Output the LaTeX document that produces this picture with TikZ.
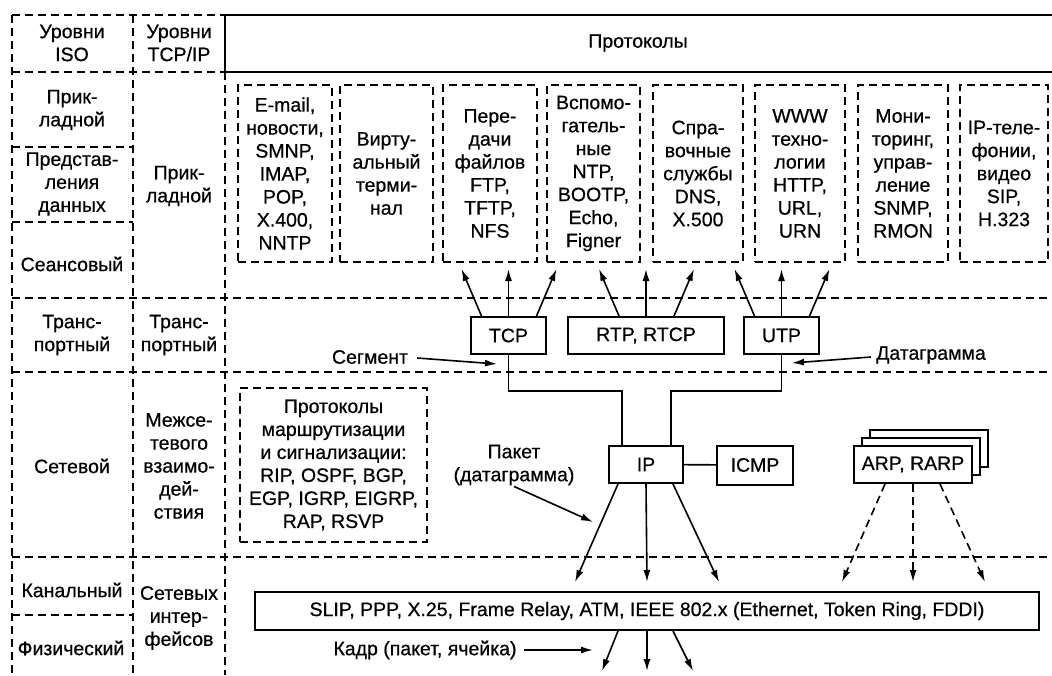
\documentclass[tikz,border=0pt]{standalone}
\usepackage{fontspec}
\setmainfont{Liberation Sans}[FakeBold=0.6]
\usetikzlibrary{arrows.meta,calc}
\begin{document}
\begin{tikzpicture}[x=1pt,y=-1pt,
  font=\fontsize{19.5}{23}\selectfont,
  grid/.style={line width=2pt, dash pattern=on 8pt off 5pt},
  lbl/.style={align=center, inner sep=1pt},
  appbox/.style={draw, line width=2pt, dash pattern=on 8pt off 5pt, align=center, minimum height=177pt, inner sep=1pt},
  sbox/.style={draw, line width=2pt, align=center, minimum height=37pt, inner sep=2pt, fill=white},
  arr/.style={line width=1.6pt, -{Latex[length=12pt,width=7pt]}},
  darr/.style={arr, dash pattern=on 8pt off 5pt},
  wire/.style={line width=1.6pt}
]
\useasboundingbox (0,0) rectangle (1052,675);
% grid
\draw[grid] (12,15) -- (225,15);
\draw[grid] (12,72) -- (225,72);
\draw[grid] (12,147) -- (133,147);
\draw[grid] (12,222) -- (133,222);
\draw[grid] (12,298) -- (1052,298);
\draw[grid] (12,372) -- (1052,372);
\draw[grid] (12,557) -- (1052,557);
\draw[grid] (12,615) -- (133,615);
\draw[grid] (12,15) -- (12,675);
\draw[grid] (133,15) -- (133,675);
\draw[grid] (225,72) -- (225,675);
\draw[line width=2pt] (1052,15) -- (225,15) -- (225,72) -- (1052,72);
% headers
\node[lbl] (isoH) at (72,43) {Уровни\\ISO};
\node[lbl] (tcpH) at (179,43) {Уровни\\TCP/IP};
\node[lbl] (protH) at (638,43) {Протоколы};
% ISO column
\node[lbl] (iso7) at (72,110) {Прик-\\ладной};
\node[lbl] (iso6) at (72,184) {Представ-\\ления\\данных};
\node[lbl] (iso5) at (72,264) {Сеансовый};
\node[lbl] (iso4) at (72,335) {Транс-\\портный};
\node[lbl] (iso3) at (72,466) {Сетевой};
\node[lbl] (iso2) at (72,590) {Канальный};
\node[lbl] (iso1) at (71,648) {Физический};
% TCP/IP column
\node[lbl] (tcp4) at (179,186) {Прик-\\ладной};
\node[lbl] (tcp3) at (179,335) {Транс-\\портный};
\node[lbl] (tcp2) at (179,466) {Межсе-\\тевого\\взаимо-\\дей-\\ствия};
\node[lbl] (tcp1) at (179,618) {Сетевых\\интер-\\фейсов};
% application boxes
\node[appbox, minimum width=94pt] (b1) at (285,173.5) {E-mail,\\новости,\\SMNP,\\IMAP,\\POP,\\X.400,\\NNTP};
\node[appbox, minimum width=93pt] (b2) at (386.5,173.5) {Вирту-\\альный\\терми-\\нал};
\node[appbox, minimum width=94pt] (b3) at (490,173.5) {Пере-\\дачи\\файлов\\FTP,\\TFTP,\\NFS};
\node[appbox, minimum width=93pt] (b4) at (593.5,173.5) {Вспомо-\\гатель-\\ные\\NTP,\\BOOTP,\\Echo,\\Figner};
\node[appbox, minimum width=90pt] (b5) at (698,173.5) {Спра-\\вочные\\службы\\DNS,\\X.500};
\node[appbox, minimum width=90pt] (b6) at (800,173.5) {WWW\\техно-\\логии\\HTTP,\\URL,\\URN};
\node[appbox, minimum width=90pt] (b7) at (903,173.5) {Мони-\\торинг,\\управ-\\ление\\SNMP,\\RMON};
\node[appbox, minimum width=88pt] (b8) at (1004,173.5) {IP-теле-\\фонии,\\видео\\SIP,\\H.323};
% transport boxes
\node[sbox, minimum width=75pt] (tcp) at (508.5,335.5) {TCP};
\node[sbox, minimum width=156pt] (rtp) at (646,335.5) {RTP, RTCP};
\node[sbox, minimum width=75pt] (utp) at (781.5,335.5) {UTP};
\foreach \n in {tcp,rtp,utp}{
  \draw[arr] ([xshift=-27pt]\n.north) -- ++(-20,-47);
  \draw[arr] (\n.north) -- ++(0,-47);
  \draw[arr] ([xshift=28pt]\n.north) -- ++(20,-47);
}
% labels transport
\node[lbl] (seg) at (370,357) {Сегмент};
\coordinate (segtip) at (497,364);
\draw[arr] (seg.east) ++(8,1) -- (segtip);
\node[lbl] (dg) at (931,355) {Датаграмма};
\coordinate (dgtip) at (792,363);
\draw[arr] (dg.west) ++(-4,2) -- (dgtip);
% network
\node[appbox, minimum width=187pt, minimum height=154pt] (rout) at (333.5,465) {Протоколы\\маршрутизации\\и сигнализации:\\RIP, OSPF, BGP,\\EGP, IGRP, EIGRP,\\RAP, RSVP};
\node[sbox, minimum width=74pt] (ip) at (646,464.5) {IP};
\node[sbox, minimum width=76pt, minimum height=39pt] (icmp) at (755,465) {ICMP};
\node[sbox, minimum width=118pt] (arp3) at (929,448.5) {};
\node[sbox, minimum width=118pt] (arp2) at (921,456.5) {};
\node[sbox, minimum width=118pt] (arp) at (913,464.5) {ARP, RARP};
\draw[wire] (tcp.south) -- ++(0,36) -| ([xshift=-24pt]ip.north);
\draw[wire] (utp.south) -- ++(0,36) -| ([xshift=25pt]ip.north);
\draw[wire] (ip) -- (icmp);
\node[lbl] (pak) at (514,465) {Пакет\\(датаграмма)};
\coordinate (paktip) at (593,522);
\draw[arr] (pak.south) -- (paktip);
% link
\node[sbox, minimum width=784pt, minimum height=38pt] (link) at (647,611) {SLIP, PPP, X.25, Frame Relay, ATM, IEEE 802.x (Ethernet, Token Ring, FDDI)};
\draw[arr] ([xshift=-28pt]ip.south) -- ([xshift=-72pt,yshift=9pt]link.north);
\draw[arr] (ip.south) -- ([yshift=9pt]link.north);
\draw[arr] ([xshift=27pt]ip.south) -- ([xshift=72pt,yshift=9pt]link.north);
\draw[darr] ([xshift=-28pt]arp.south) -- ([xshift=195pt,yshift=9pt]link.north);
\draw[darr] (arp.south) -- ([xshift=266pt,yshift=9pt]link.north);
\draw[darr] ([xshift=27pt]arp.south) -- ([xshift=338pt,yshift=9pt]link.north);
\draw[arr] ([xshift=-29pt]link.south) -- ++(-16,40);
\draw[arr] (link.south) -- ++(0,40);
\draw[arr] ([xshift=26pt]link.south) -- ++(20,40);
\node[lbl] (kadr) at (425,650) {Кадр (пакет, ячейка)};
\coordinate (kadrtip) at (593,650);
\draw[arr] (kadr.east) ++(6,0) -- (kadrtip);
\end{tikzpicture}
\end{document}
